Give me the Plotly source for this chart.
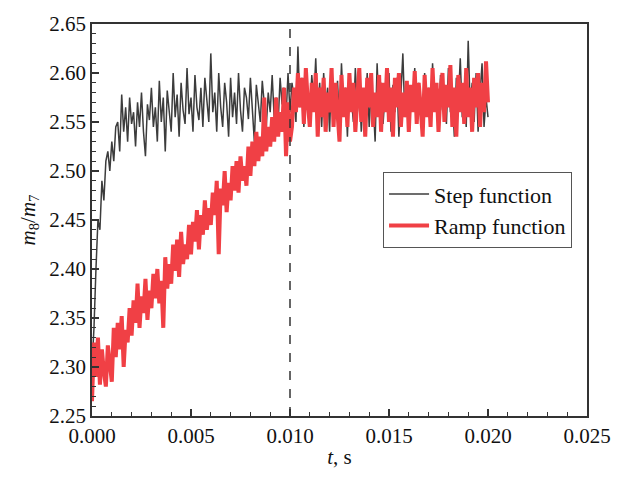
import plotly.graph_objects as go

t_step = 0.0001
n_points = 201
time_s = [round(i * t_step, 6) for i in range(n_points)]

step_function = [
    2.300, 2.340, 2.400, 2.450, 2.440, 2.490, 2.470, 2.510, 2.520, 2.500,
    2.530, 2.510, 2.545, 2.550, 2.520, 2.578, 2.540, 2.565, 2.530, 2.575,
    2.548, 2.560, 2.525, 2.570, 2.545, 2.580, 2.540, 2.515, 2.568, 2.552,
    2.585, 2.545, 2.565, 2.530, 2.592, 2.550, 2.575, 2.520, 2.582, 2.560,
    2.540, 2.600, 2.555, 2.578, 2.535, 2.590, 2.562, 2.548, 2.605, 2.558,
    2.575, 2.540, 2.598, 2.565, 2.552, 2.585, 2.545, 2.595, 2.570, 2.550,
    2.620, 2.560, 2.580, 2.540, 2.600, 2.565, 2.545, 2.590, 2.570, 2.535,
    2.595, 2.555, 2.580, 2.548, 2.600, 2.562, 2.540, 2.585, 2.575, 2.553,
    2.595, 2.560, 2.530, 2.588, 2.566, 2.550, 2.592, 2.570, 2.545, 2.580,
    2.560, 2.598, 2.555, 2.575, 2.548, 2.595, 2.568, 2.585, 2.555, 2.600,
    2.560, 2.590, 2.575, 2.550, 2.627, 2.565, 2.595, 2.545, 2.585, 2.570,
    2.555, 2.598, 2.570, 2.615, 2.560, 2.590, 2.545, 2.600, 2.565, 2.585,
    2.540, 2.605, 2.575, 2.555, 2.592, 2.548, 2.610, 2.565, 2.585, 2.535,
    2.598, 2.570, 2.550, 2.605, 2.560, 2.590, 2.540, 2.580, 2.562, 2.600,
    2.545, 2.585, 2.570, 2.530, 2.610, 2.558, 2.590, 2.548, 2.578, 2.565,
    2.600, 2.540, 2.588, 2.560, 2.595, 2.535, 2.575, 2.620, 2.555, 2.590,
    2.545, 2.582, 2.565, 2.605, 2.550, 2.590, 2.570, 2.538, 2.600, 2.560,
    2.585, 2.545, 2.610, 2.565, 2.580, 2.540, 2.598, 2.562, 2.588, 2.548,
    2.605, 2.560, 2.575, 2.535, 2.595, 2.570, 2.615, 2.555, 2.585, 2.545,
    2.633, 2.565, 2.590, 2.550, 2.600, 2.540, 2.580, 2.610, 2.545, 2.575,
    2.555,
]

ramp_function = [
    2.265, 2.325, 2.290, 2.330, 2.282, 2.318, 2.295, 2.280, 2.322, 2.300,
    2.285, 2.340, 2.310, 2.345, 2.318, 2.352, 2.300, 2.338, 2.325, 2.360,
    2.332, 2.368, 2.345, 2.385, 2.340, 2.372, 2.355, 2.390, 2.348, 2.378,
    2.360, 2.395, 2.370, 2.400, 2.365, 2.388, 2.340, 2.412, 2.380, 2.405,
    2.385, 2.425, 2.398, 2.430, 2.392, 2.438, 2.405, 2.425, 2.410, 2.445,
    2.415, 2.448, 2.428, 2.460, 2.420, 2.455, 2.435, 2.470, 2.440, 2.462,
    2.445, 2.478, 2.455, 2.490, 2.415, 2.482, 2.465, 2.500, 2.458, 2.488,
    2.470, 2.505, 2.480, 2.510, 2.478, 2.515, 2.490, 2.505, 2.485, 2.525,
    2.495, 2.530, 2.505, 2.540, 2.510, 2.535, 2.515, 2.575, 2.520, 2.545,
    2.525, 2.555, 2.530, 2.575, 2.535, 2.560, 2.540, 2.585, 2.515, 2.570,
    2.530, 2.545, 2.585, 2.560, 2.600, 2.565, 2.595, 2.548, 2.605, 2.570,
    2.545, 2.590, 2.560, 2.600, 2.535, 2.585, 2.555, 2.595, 2.540, 2.580,
    2.560, 2.605, 2.545, 2.590, 2.565, 2.530, 2.598, 2.555, 2.585, 2.545,
    2.600, 2.560, 2.590, 2.540, 2.575, 2.605, 2.550, 2.585, 2.535, 2.595,
    2.565, 2.600, 2.545, 2.580, 2.555, 2.598, 2.540, 2.590, 2.560, 2.605,
    2.550, 2.585, 2.535, 2.595, 2.565, 2.600, 2.545, 2.580, 2.555, 2.592,
    2.540, 2.588, 2.560, 2.602, 2.548, 2.590, 2.565, 2.535, 2.598, 2.555,
    2.585, 2.545, 2.605, 2.560, 2.590, 2.540, 2.580, 2.600, 2.550, 2.588,
    2.565, 2.608, 2.545, 2.585, 2.535, 2.598, 2.560, 2.590, 2.548, 2.605,
    2.555, 2.585, 2.540, 2.595, 2.565, 2.600, 2.545, 2.590, 2.560, 2.612,
    2.570,
]

x_ticks = [0.000, 0.005, 0.010, 0.015, 0.020, 0.025]
y_ticks = [2.25, 2.30, 2.35, 2.40, 2.45, 2.50, 2.55, 2.60, 2.65]
marker_time = 0.010

FONT = "Liberation Serif, Times New Roman, serif"
AX = "#333333"

fig = go.Figure()
fig.add_trace(go.Scatter(
    x=time_s, y=step_function, mode="lines", name="Step function",
    line=dict(color="#3c3c3c", width=1.5),
))
fig.add_trace(go.Scatter(
    x=time_s, y=ramp_function, mode="lines", name="Ramp function",
    line=dict(color="#f04045", width=4),
))

fig.add_shape(type="line", xref="x", yref="paper", x0=marker_time, x1=marker_time,
              y0=0, y1=1, line=dict(color="#333333", width=1.5, dash="dash"))

axis_common = dict(
    showline=True, linecolor=AX, linewidth=1.5, mirror=True,
    ticks="inside", ticklen=7, tickwidth=1.5, tickcolor=AX,
    showgrid=False, zeroline=False,
    tickfont=dict(family=FONT, size=21, color="#111111"),
)

fig.update_xaxes(
    range=[0, 0.025], tickvals=x_ticks,
    ticktext=[f"{v:.3f}" for v in x_ticks],
    minor=dict(ticks="inside", ticklen=4, tickwidth=1, tickcolor=AX, dtick=0.001, showgrid=False),
    title=dict(text="<i>t</i>, s", font=dict(family=FONT, size=21, color="#111111"), standoff=2),
    **axis_common,
)
fig.update_yaxes(
    range=[2.25, 2.65], tickvals=y_ticks,
    ticktext=[f"{v:.2f}" for v in y_ticks],
    minor=dict(ticks="inside", ticklen=4, tickwidth=1, tickcolor=AX, dtick=0.01, showgrid=False),
    title=dict(text="<i>m</i><sub>8</sub>/<i>m</i><sub>7</sub>",
               font=dict(family=FONT, size=21, color="#111111"), standoff=8),
    **axis_common,
)

fig.update_layout(
    width=624, height=477,
    margin=dict(l=92, r=37, t=15, b=61),
    plot_bgcolor="white", paper_bgcolor="white",
    legend=dict(
        x=0.588, y=0.622, xanchor="left", yanchor="top",
        bgcolor="white", bordercolor="#555555", borderwidth=1,
        font=dict(family=FONT, size=22, color="#111111"),
        tracegroupgap=0, itemwidth=40,
    ),
)

fig.write_html("out.html")
